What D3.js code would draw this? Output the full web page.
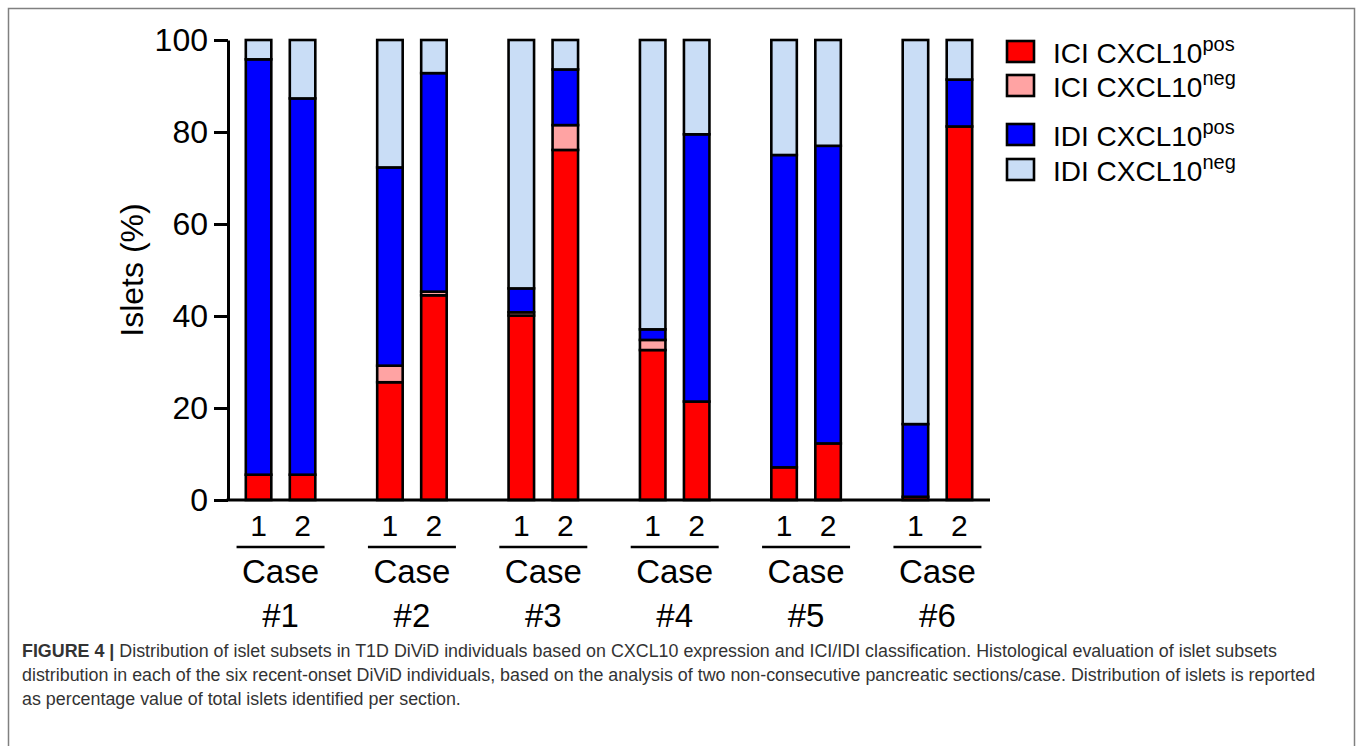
<!DOCTYPE html>
<html>
<head>
<meta charset="utf-8">
<script src="https://cdn.jsdelivr.net/npm/d3@7"></script>
<style>
  body { margin: 0; background: #fff; }
  text { font-family: "Liberation Sans", Arial, Helvetica, sans-serif; }
</style>
</head>
<body>
<script>
// cases and the two sections per case
var caseNames = ["#1", "#2", "#3", "#4", "#5", "#6"];
var sections = ["1", "2"];

// percentages per bar, case 1 sec 1, case 1 sec 2, case 2 sec 1 ...
var iciPos = [5.5, 5.5, 25.6, 44.5, 40.1, 76.1, 32.6, 21.4, 7.1, 12.3, 0.7, 81.2];
var iciNeg = [0, 0, 3.6, 0.8, 0.7, 5.4, 2.2, 0, 0, 0, 0, 0];
var idiPos = [90.3, 81.8, 43.1, 47.5, 5.2, 12.1, 2.3, 58.1, 67.9, 64.7, 15.8, 10.2];
var idiNeg = [4.2, 12.7, 27.7, 7.2, 54.0, 6.4, 62.9, 20.5, 25.0, 23.0, 83.5, 8.6];

var seriesKeys = ["iciPos", "iciNeg", "idiPos", "idiNeg"];
var seriesMain = ["ICI CXCL10", "ICI CXCL10", "IDI CXCL10", "IDI CXCL10"];
var seriesSup = ["pos", "neg", "pos", "neg"];
var seriesColors = ["#ff0000", "#ffa3a3", "#0000ff", "#c9ddf6"];

var yTicks = [0, 20, 40, 60, 80, 100];

var captionBold = "FIGURE 4 |";
var captionLines = [
  " Distribution of islet subsets in T1D DiViD individuals based on CXCL10 expression and ICI/IDI classification. Histological evaluation of islet subsets",
  "distribution in each of the six recent-onset DiViD individuals, based on the analysis of two non-consecutive pancreatic sections/case. Distribution of islets is reported",
  "as percentage value of total islets identified per section."
];

var w = 1358;
var h = 746;

var svg = d3.select("body")
            .append("svg")
            .attr("width", w)
            .attr("height", h);

// figure frame
svg.append("rect")
  .attr("x", 8.5).attr("y", 8.5)
  .attr("width", 1346).attr("height", 760)
  .attr("fill", "none")
  .attr("stroke", "#808080")
  .attr("stroke-width", 1.5);

// build rows for the stack
var rows = [];
caseNames.forEach(function(c, ci) {
  sections.forEach(function(s, si) {
    var i = ci * 2 + si;
    rows.push({case: c, section: s, iciPos: iciPos[i], iciNeg: iciNeg[i], idiPos: idiPos[i], idiNeg: idiNeg[i]});
  });
});

var stacked = d3.stack().keys(seriesKeys)(rows);

var y = d3.scaleLinear().domain([0, 100]).range([500, 40]);
var x = d3.scalePoint().domain(caseNames).range([228, 990]).padding(0.4);
var xSub = d3.scaleBand().domain(sections).range([-44, 44]).paddingInner(0).paddingOuter(0);
var barW = 25.5;

function barCenter(d) {
  return x(d.data.case) + xSub(d.data.section) + xSub.bandwidth() / 2;
}

// bars
var layers = svg.append("g")
  .selectAll("g")
  .data(stacked)
  .enter()
  .append("g")
  .attr("fill", function(d, i) { return seriesColors[i]; });

layers.selectAll("rect")
  .data(function(d) { return d.filter(function(p) { return p[1] - p[0] > 0; }); })
  .enter()
  .append("rect")
  .attr("x", function(d) { return barCenter(d) - barW / 2; })
  .attr("y", function(d) { return y(d[1]); })
  .attr("width", barW)
  .attr("height", function(d) { return y(d[0]) - y(d[1]); })
  .attr("stroke", "#000")
  .attr("stroke-width", 2.6);

// y axis
var yAxis = svg.append("g")
  .attr("transform", "translate(228,0)")
  .call(d3.axisLeft(y).tickValues(yTicks).tickSize(14).tickSizeOuter(0).tickPadding(6));
yAxis.select(".domain").attr("stroke-width", 3);
yAxis.selectAll(".tick line").attr("stroke-width", 3);
yAxis.selectAll(".tick text")
  .attr("font-size", 32)
  .attr("fill", "#000")
  .style("font-family", "'Liberation Sans', Arial, sans-serif");

// x axis line
svg.append("line")
  .attr("x1", 226.5).attr("x2", x.range()[1])
  .attr("y1", y(0)).attr("y2", y(0))
  .attr("stroke", "#000")
  .attr("stroke-width", 3);

// y title
svg.append("text")
  .attr("transform", "translate(143," + y(50) + ") rotate(-90)")
  .attr("text-anchor", "middle")
  .attr("font-size", 32)
  .text("Islets (%)");

// section labels, underline and case names
var groups = svg.append("g")
  .selectAll("g")
  .data(caseNames)
  .enter()
  .append("g")
  .attr("transform", function(d) { return "translate(" + x(d) + ",0)"; });

groups.selectAll(".sec")
  .data(sections)
  .enter()
  .append("text")
  .attr("class", "sec")
  .attr("x", function(d) { return xSub(d) + xSub.bandwidth() / 2; })
  .attr("y", 536)
  .attr("text-anchor", "middle")
  .attr("font-size", 30)
  .text(function(d) { return d; });

groups.append("line")
  .attr("x1", -44).attr("x2", 44)
  .attr("y1", 547).attr("y2", 547)
  .attr("stroke", "#000")
  .attr("stroke-width", 2.5);

groups.append("text")
  .attr("y", 583)
  .attr("text-anchor", "middle")
  .attr("font-size", 33)
  .text("Case");

groups.append("text")
  .attr("y", 627)
  .attr("text-anchor", "middle")
  .attr("font-size", 33)
  .text(function(d) { return d; });

// legend
var legendY = [41, 75, 124, 159];
var legend = svg.append("g")
  .selectAll("g")
  .data(seriesKeys)
  .enter()
  .append("g")
  .attr("transform", function(d, i) { return "translate(1007," + legendY[i] + ")"; });

legend.append("rect")
  .attr("width", 27)
  .attr("height", 21)
  .attr("fill", function(d, i) { return seriesColors[i]; })
  .attr("stroke", "#000")
  .attr("stroke-width", 2.6);

var legendText = legend.append("text")
  .attr("x", 46)
  .attr("y", 22)
  .attr("font-size", 28);
legendText.append("tspan").text(function(d, i) { return seriesMain[i]; });
legendText.append("tspan")
  .attr("dy", -12)
  .attr("font-size", 20)
  .text(function(d, i) { return seriesSup[i]; });

// caption, squeezed evenly so line 1 fits the reference width
var cap = svg.append("g").attr("fill", "#333");
var capTexts = [];
captionLines.forEach(function(line, i) {
  var t = cap.append("text")
    .attr("x", 22)
    .attr("y", 657 + i * 24)
    .attr("font-size", 17.5);
  if (i === 0) {
    t.append("tspan").attr("font-weight", "bold").text(captionBold);
  }
  t.append("tspan").text(line);
  capTexts.push(t);
});
var squeeze = 1255 / capTexts[0].node().getComputedTextLength();
capTexts.forEach(function(t) {
  var len = t.node().getComputedTextLength();
  t.attr("textLength", len * squeeze).attr("lengthAdjust", "spacingAndGlyphs");
});
</script>
</body>
</html>
